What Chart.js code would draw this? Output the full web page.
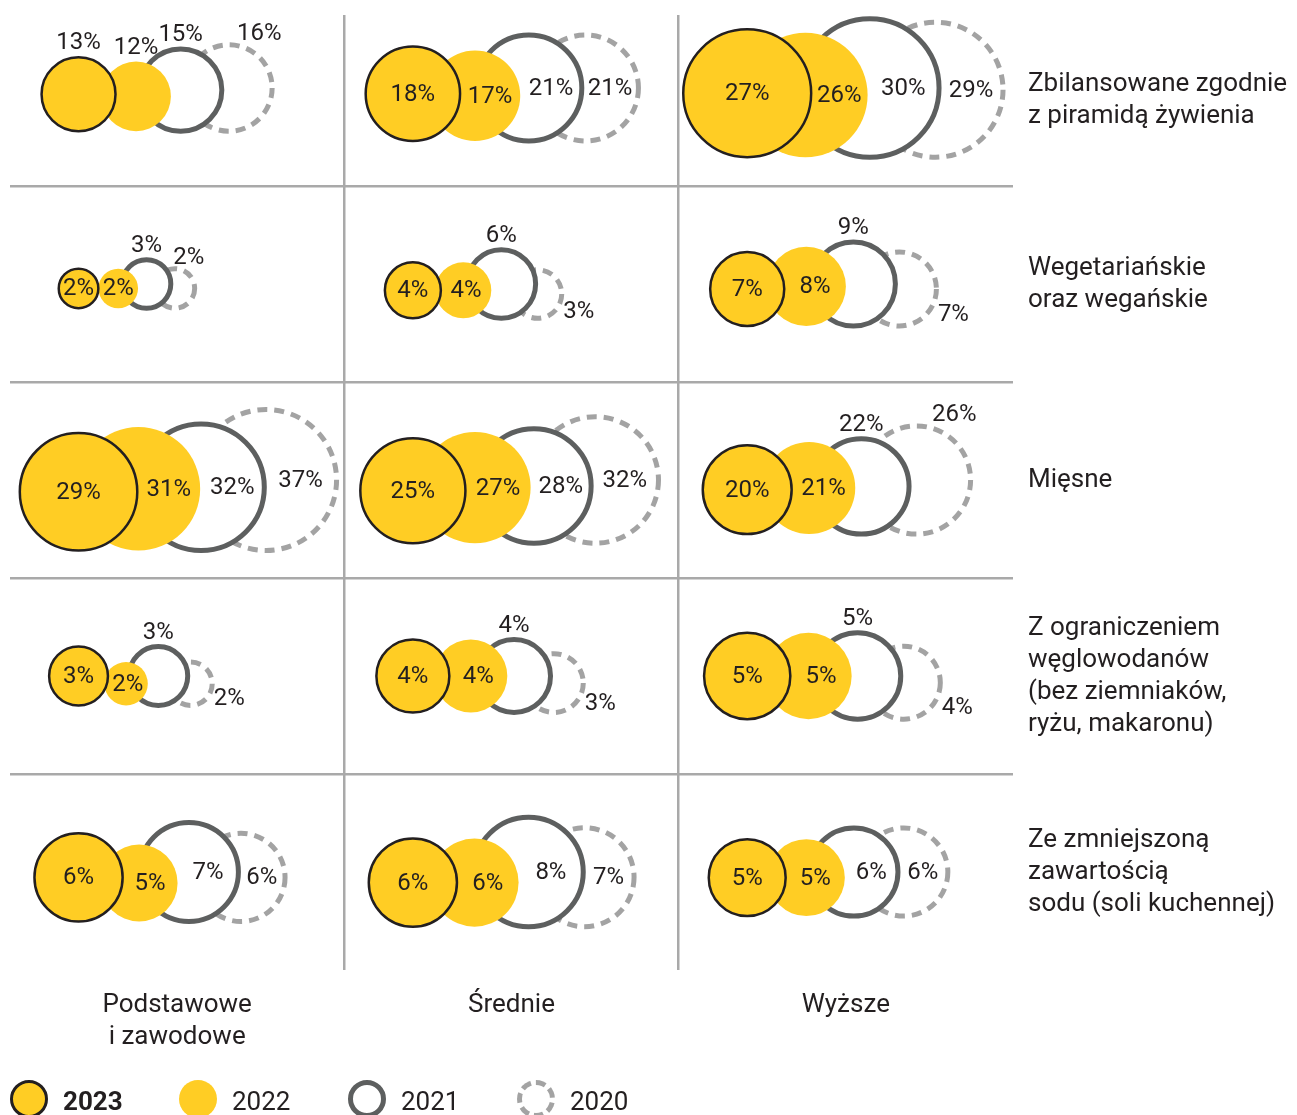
<!DOCTYPE html>
<html lang="pl">
<head>
<meta charset="utf-8">
<title>Rodzaj diety a wykształcenie</title>
<script src="https://cdn.jsdelivr.net/npm/chart.js@4.4.1/dist/chart.umd.min.js"></script>
<style>
  html, body { margin: 0; padding: 0; background: #fff; overflow: hidden; }
  .wrap { position: relative; width: 1297px; height: 1115px; overflow: hidden; }
  #chart { position: absolute; left: 0; top: 0; }
  .legend { position: absolute; left: 10px; top: 1080px; display: flex; font-family: Roboto, sans-serif; font-size: 26px; color: #231f20; }
  .legend-item { display: flex; align-items: center; width: 169px; }
  .legend-dot { width: 38px; height: 38px; border-radius: 50%; box-sizing: border-box; margin-right: 15px; flex: none; }
  .legend-text { line-height: 38px; position: relative; top: 2px; }
</style>
</head>
<body>
<div class="wrap">
  <canvas id="chart" width="1297" height="1115"></canvas>
  <div class="legend" id="legend"></div>
</div>
<script>
'use strict';

// ===== dane =====
const education = [['Podstawowe', 'i zawodowe'], ['Średnie'], ['Wyższe']];
const diets = [
    ['Zbilansowane zgodnie', 'z piramidą żywienia'],
    ['Wegetariańskie', 'oraz wegańskie'],
    ['Mięsne'],
    ['Z ograniczeniem', 'węglowodanów', '(bez ziemniaków,', 'ryżu, makaronu)'],
    ['Ze zmniejszoną', 'zawartością', 'sodu (soli kuchennej)']
];
const years = ['2023', '2022', '2021', '2020'];
// udział w %, kolejno: dieta x wykształcenie (podstawowe, średnie, wyższe)
const share2023 = [13, 18, 27, 2, 4, 7, 29, 25, 20, 3, 4, 5, 6, 6, 5];
const share2022 = [12, 17, 26, 2, 4, 8, 31, 27, 21, 2, 4, 5, 5, 6, 5];
const share2021 = [15, 21, 30, 3, 6, 9, 32, 28, 22, 3, 4, 5, 7, 8, 6];
const share2020 = [16, 21, 29, 2, 3, 7, 37, 32, 26, 2, 3, 4, 6, 7, 6];
const series = [share2023, share2022, share2021, share2020];

// ===== układ i wygląd =====
const AREA = { left: 10, top: 15, right: 1013, bottom: 970 };
const CANVAS_W = 1297;
const CANVAS_H = 1115;
const ROW_H = 196;
const COL_W = (AREA.right - AREA.left) / 3;
const Y_MIN = 5 - (AREA.bottom - AREA.top) / ROW_H;   // pierwszy wiersz jest ucięty u góry
const GRID = '#A9A9A9';
const INK = '#231F20';
const YELLOW = '#FFCD24';
const TEXT_FONT = '26px Roboto, sans-serif';
const LINE_H = 32;

// skala promienia w każdym wierszu: r = k * v^p
const rowSize = [[5.4, 0.75], [14, 0.5], [4.7, 0.75], [12.9, 0.75], [11.5, 0.75]];

// c - w widocznej części koła, t - nad kołem, tr - nad, z prawej, br - pod, z prawej
const labelSpots = [
    ['t', 't', 't', 'tr'], ['c', 'c', 'c', 'c'], ['c', 'c', 'c', 'c'],
    ['c', 'c', 't', 'tr'], ['c', 'c', 't', 'br'], ['c', 'c', 't', 'br'],
    ['c', 'c', 'c', 'c'], ['c', 'c', 'c', 'c'], ['c', 'c', 't', 'tr'],
    ['c', 'c', 't', 'br'], ['c', 'c', 't', 'br'], ['c', 'c', 't', 'br'],
    ['c', 'c', 'c', 'c'], ['c', 'c', 'c', 'c'], ['c', 'c', 'c', 'c']
];

const looks = [
    { backgroundColor: YELLOW, borderColor: INK, borderWidth: 2.5 },
    { backgroundColor: YELLOW, borderColor: YELLOW, borderWidth: 0 },
    { backgroundColor: '#FFFFFF', borderColor: '#5D5F5F', borderWidth: 5 },
    { backgroundColor: '#FFFFFF', borderColor: '#A3A3A3', borderWidth: 5, dash: [10, 7] }
];

function radius(row, v) {
    const [k, p] = rowSize[row];
    return k * Math.pow(v, p);
}

// koła w komórce nachodzą na siebie i stoją na wspólnej linii dolnej
function buildPoints() {
    const out = series.map(() => []);
    for (let cell = 0; cell < share2023.length; cell++) {
        const row = Math.floor(cell / 3);
        const col = cell % 3;
        const rs = series.map(s => radius(row, s[cell]));
        const maxR = Math.max(...rs);
        let dx = 0;
        rs.forEach((r, s) => {
            if (s > 0) {
                const prev = rs[s - 1];
                const avg = (prev + r) / 2;
                const f = s === 1 ? 1.25 - 0.0125 * avg : 0.72 - 0.0035 * avg;
                dx += f * (prev + r);
            }
            out[s].push({
                x: col + 0.205 + dx / COL_W,
                y: row + 0.5 + (maxR - r) / ROW_H,
                r: r,
                v: series[s][cell]
            });
        });
    }
    return out;
}

const points = buildPoints();

// przerywana linia dla 2020
const dashPlugin = {
    id: 'dash',
    beforeDatasetDraw(chart, args) {
        const d = chart.data.datasets[args.index].dash;
        if (d) chart.ctx.setLineDash(d);
    },
    afterDatasetDraw(chart) {
        chart.ctx.setLineDash([]);
    }
};

// podpisy procentów
const labelPlugin = {
    id: 'shareLabels',
    afterDatasetsDraw(chart) {
        const ctx = chart.ctx;
        const metas = years.map((_, s) => chart.getDatasetMeta(s));
        ctx.save();
        ctx.font = '24px Roboto, sans-serif';
        ctx.fillStyle = INK;
        ctx.textAlign = 'center';
        ctx.textBaseline = 'middle';
        metas[0].data.forEach((_, cell) => {
            metas.forEach((meta, s) => {
                const el = meta.data[cell];
                const r = el.options.radius;
                const spot = labelSpots[cell][s];
                let x = el.x;
                let y = el.y;
                if (spot === 'c' && s > 0) {
                    const p = metas[s - 1].data[cell];
                    x = (p.x + p.options.radius + el.x + r) / 2;
                } else if (spot === 't') {
                    y = el.y - r - 15;
                } else if (spot === 'tr') {
                    x = el.x + r * 0.7;
                    y = el.y - r - 12;
                } else if (spot === 'br') {
                    x = el.x + r + 17;
                    y = el.y + r * 0.68;
                }
                ctx.fillText(chart.data.datasets[s].data[cell].v + '%', x, y + 1);
            });
        });
        ctx.restore();
    }
};

// nazwy kolumn (pod siatką) i wierszy (z prawej), ustawione przez skale
const axisLabelsPlugin = {
    id: 'axisLabels',
    afterDraw(chart) {
        const { ctx, chartArea } = chart;
        const { x, y } = chart.scales;
        ctx.save();
        ctx.font = TEXT_FONT;
        ctx.fillStyle = INK;
        ctx.textAlign = 'center';
        ctx.textBaseline = 'alphabetic';
        education.forEach((lines, i) => {
            lines.forEach((line, j) => {
                ctx.fillText(line, x.getPixelForValue(i + 0.5), chartArea.bottom + 42 + j * LINE_H);
            });
        });
        ctx.textAlign = 'left';
        ctx.textBaseline = 'middle';
        diets.forEach((lines, i) => {
            const mid = y.getPixelForValue(i === 0 ? (Y_MIN + 1) / 2 : i + 0.5);
            lines.forEach((line, j) => {
                ctx.fillText(line, chartArea.right + 15, mid + (j - (lines.length - 1) / 2) * LINE_H);
            });
        });
        ctx.restore();
    }
};

const fixedTicks = values => scale => { scale.ticks = values.map(value => ({ value })); };

Chart.defaults.font.family = 'Roboto, sans-serif';
Chart.defaults.color = INK;

const chart = new Chart(document.getElementById('chart'), {
    type: 'bubble',
    data: {
        datasets: years.map((year, s) => Object.assign({ label: year, data: points[s], clip: false }, looks[s]))
    },
    options: {
        responsive: false,
        animation: false,
        events: [],
        layout: {
            autoPadding: false,
            padding: {
                left: AREA.left,
                top: AREA.top,
                right: CANVAS_W - AREA.right,
                bottom: CANVAS_H - AREA.bottom
            }
        },
        plugins: { legend: { display: false }, tooltip: { enabled: false } },
        scales: {
            x: {
                type: 'linear', position: 'bottom', min: 0, max: 3,
                afterBuildTicks: fixedTicks([1, 2]),
                ticks: { display: false },
                grid: { color: GRID, lineWidth: 2.5, drawTicks: false },
                border: { display: false }
            },
            y: {
                type: 'linear', position: 'left', reverse: true, min: Y_MIN, max: 5,
                afterBuildTicks: fixedTicks([1, 2, 3, 4]),
                ticks: { display: false },
                grid: { color: GRID, lineWidth: 2.5, drawTicks: false },
                border: { display: false }
            }
        }
    },
    plugins: [dashPlugin, labelPlugin, axisLabelsPlugin]
});

// legenda w HTML, z wyglądu serii
const legendBox = document.getElementById('legend');
chart.data.datasets.forEach((ds, s) => {
    const item = document.createElement('div');
    item.className = 'legend-item';
    const dot = document.createElement('span');
    dot.className = 'legend-dot';
    dot.style.background = ds.backgroundColor;
    dot.style.border = ds.borderWidth
        ? `${ds.borderWidth + (s === 0 ? 0.5 : 0)}px ${ds.dash ? 'dashed' : 'solid'} ${ds.borderColor}`
        : 'none';
    const text = document.createElement('span');
    text.className = 'legend-text';
    text.textContent = ds.label;
    text.style.fontWeight = s === 0 ? '700' : '400';
    item.append(dot, text);
    legendBox.append(item);
});
</script>
</body>
</html>
